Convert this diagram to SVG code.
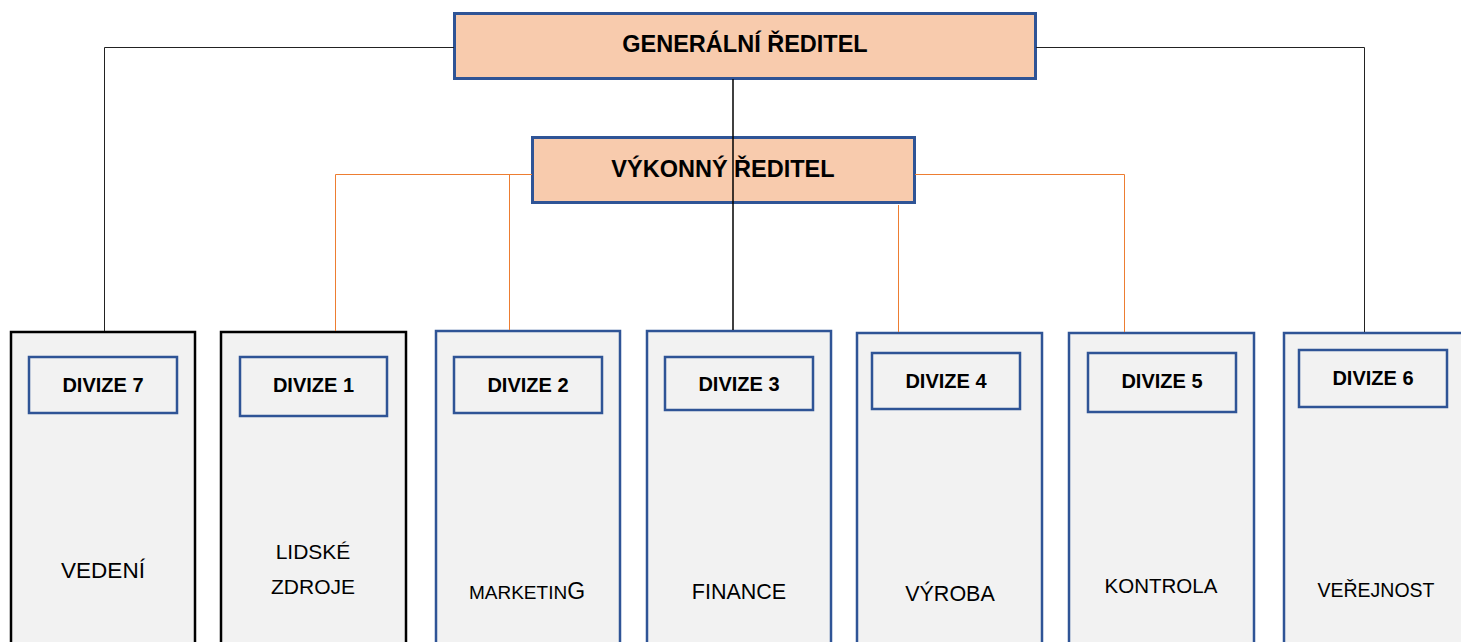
<svg xmlns="http://www.w3.org/2000/svg" width="1461" height="642" viewBox="0 0 1461 642">
<style>
.top{fill:#f8cbad;stroke:#2f5496;stroke-width:3}
.outer{fill:#f2f2f2;stroke:#2f5496;stroke-width:2.5}
.outerk{fill:#f2f2f2;stroke:#000;stroke-width:2.5}
.inner{fill:#f2f2f2;stroke:#2f5496;stroke-width:2.5}
.tt{font-family:"Liberation Sans",Arial,sans-serif;font-weight:bold;font-size:23.5px;fill:#000;text-anchor:middle}
.dl{font-family:"Liberation Sans",Arial,sans-serif;font-weight:bold;font-size:20px;fill:#000;text-anchor:middle}
.nm{font-family:"Liberation Sans",Arial,sans-serif;font-size:21px;fill:#000;text-anchor:middle}
.blk{stroke:#222;stroke-width:1;fill:none}
.ctr{stroke:#000;stroke-width:1.5;fill:none}
.org{stroke:#ed7d31;stroke-width:1;fill:none}
</style>
<rect width="1461" height="642" fill="#fff"/>
<g id="general">
<rect class="top" x="454.5" y="13.5" width="581" height="65"/>
<text class="tt" x="745" y="52">GENERÁLNÍ ŘEDITEL</text>
</g>
<g id="executive">
<rect class="top" x="532.5" y="137.5" width="382" height="65"/>
<text class="tt" x="723" y="177">VÝKONNÝ ŘEDITEL</text>
</g>
<g id="div7">
<rect class="outerk" x="11" y="332" width="184" height="330"/>
<rect class="inner" x="29" y="357" width="148" height="56"/>
<text class="dl" x="103" y="392">DIVIZE 7</text>
<text class="nm" x="103" y="578" style="font-size:22.5px">VEDENÍ</text>
</g>
<g id="div1">
<rect class="outerk" x="221" y="332" width="185" height="330"/>
<rect class="inner" x="240" y="357" width="147" height="59"/>
<text class="dl" x="313.5" y="392">DIVIZE 1</text>
<text class="nm" x="313" y="559">LIDSKÉ</text>
<text class="nm" x="313" y="594">ZDROJE</text>
</g>
<g id="div2">
<rect class="outer" x="436" y="331" width="184" height="330"/>
<rect class="inner" x="454" y="357" width="148" height="56"/>
<text class="dl" x="528" y="392">DIVIZE 2</text>
<text class="nm" x="527" y="599"><tspan style="font-size:19px">MARKETIN</tspan><tspan style="font-size:23px">G</tspan></text>
</g>
<g id="div3">
<rect class="outer" x="647" y="331" width="184" height="330"/>
<rect class="inner" x="665" y="357" width="148" height="53"/>
<text class="dl" x="739" y="391">DIVIZE 3</text>
<text class="nm" x="739" y="599" style="font-size:21.5px">FINANCE</text>
</g>
<g id="div4">
<rect class="outer" x="857" y="333" width="185" height="330"/>
<rect class="inner" x="872" y="353" width="148" height="56"/>
<text class="dl" x="946" y="388">DIVIZE 4</text>
<text class="nm" x="950" y="601" style="font-size:21.5px">VÝROBA</text>
</g>
<g id="div5">
<rect class="outer" x="1069" y="333" width="185" height="330"/>
<rect class="inner" x="1088" y="353" width="148" height="59"/>
<text class="dl" x="1162" y="388">DIVIZE 5</text>
<text class="nm" x="1161" y="593" style="font-size:20.5px">KONTROLA</text>
</g>
<g id="div6">
<rect class="outer" x="1284" y="333" width="200" height="330"/>
<rect class="inner" x="1299" y="350" width="148" height="57"/>
<text class="dl" x="1373" y="385">DIVIZE 6</text>
<text class="nm" x="1376" y="597" style="font-size:19.5px">VEŘEJNOST</text>
</g>
<g id="connectors">
<polyline class="blk" points="454,47.5 104.5,47.5 104.5,331"/>
<polyline class="blk" points="1036,47.5 1364.5,47.5 1364.5,332"/>
<line class="ctr" x1="733" y1="79" x2="733" y2="330"/>
<polyline class="org" points="532,174.5 335.5,174.5 335.5,331"/>
<line class="org" x1="509.5" y1="174" x2="509.5" y2="330"/>
<polyline class="org" points="915,174.5 1124.5,174.5 1124.5,332"/>
<line class="org" x1="898.5" y1="205" x2="898.5" y2="332"/>
</g>
</svg>
